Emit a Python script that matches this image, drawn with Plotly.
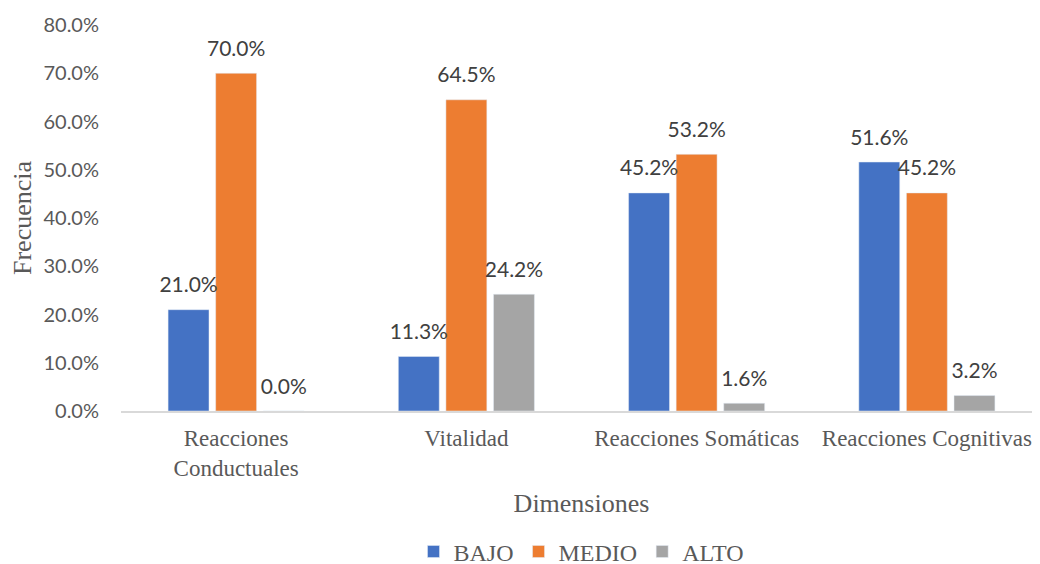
import plotly.graph_objects as go

categories = ["Reacciones<br>Conductuales", "Vitalidad", "Reacciones Somáticas", "Reacciones Cognitivas"]
bajo = [0.210, 0.113, 0.452, 0.516]
medio = [0.700, 0.645, 0.532, 0.452]
alto = [0.000, 0.242, 0.016, 0.032]

series = [("BAJO", bajo, "#4472C4"), ("MEDIO", medio, "#ED7D31"), ("ALTO", alto, "#A5A5A5")]

fig = go.Figure()
for name, vals, color in series:
    fig.add_trace(go.Bar(x=categories, y=vals, name=name, marker_color=color,
                         offsetgroup=name))
# data labels, offset the same way as the grouped bars
for name, vals, color in series:
    fig.add_trace(go.Scatter(
        x=categories, y=vals, mode="markers+text", offsetgroup=name,
        text=[f"{v:.1%}" for v in vals], textposition="top center",
        marker=dict(size=18, opacity=0), showlegend=False, hoverinfo="skip",
        cliponaxis=False, textfont=dict(family="Lato", size=21, color="#404040")))

# page body adds an 8px offset, so the figure is sized/margined to compensate
fig.update_layout(
    width=1040, height=570,
    paper_bgcolor="white", plot_bgcolor="white",
    barmode="group", bargap=0.38, bargroupgap=0.14,
    scattermode="group", scattergap=0.38,
    margin=dict(l=113, r=6, t=17, b=167, autoexpand=False),
    xaxis=dict(showline=True, linecolor="#D9D9D9", linewidth=1.5, automargin=False,
               ticklabelstandoff=6,
               tickfont=dict(family="Liberation Serif", size=23, color="#595959"),
               title=dict(text="Dimensiones", font=dict(family="Liberation Serif", size=26, color="#595959"),
                          standoff=14)),
    yaxis=dict(range=[0, 0.8], dtick=0.1, tickformat=".1%", showgrid=False, zeroline=False,
               ticklabelstandoff=21, automargin=False,
               tickfont=dict(family="Lato", size=20, color="#595959"),
               title=dict(text="Frecuencia", font=dict(family="Liberation Serif", size=26, color="#595959"),
                          standoff=12)),
    legend=dict(orientation="h", x=0.5, xanchor="center", y=-0.365, yanchor="middle",
                font=dict(family="Liberation Serif", size=24, color="#595959"),
                itemwidth=30),
)

fig.write_html("out.html")
